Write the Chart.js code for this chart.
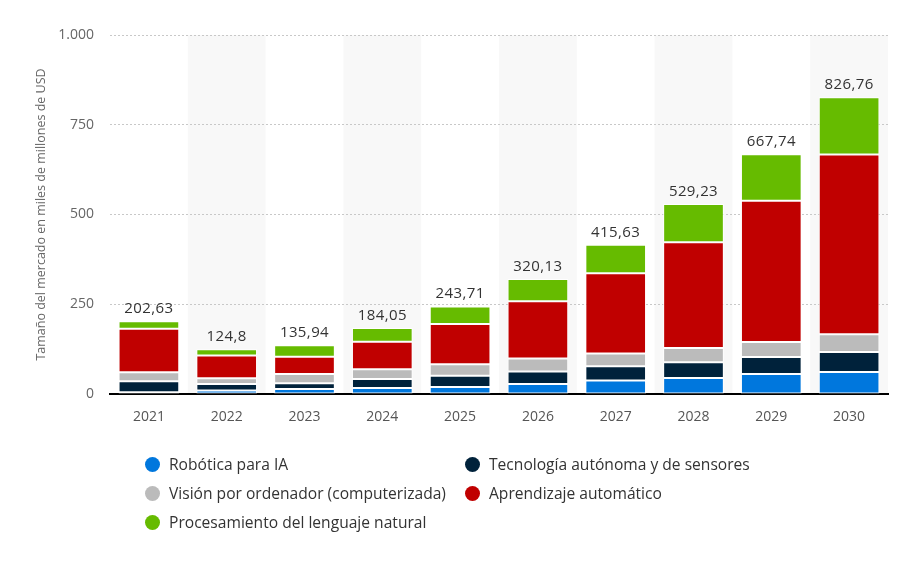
<!DOCTYPE html>
<html>
<head>
<meta charset="utf-8">
<script src="https://cdn.jsdelivr.net/npm/chart.js@4/dist/chart.umd.min.js"></script>
<style>
  html, body { margin: 0; padding: 0; background: #fff; }
  #wrap { position: relative; width: 910px; height: 565px; }
  canvas { position: absolute; left: 0; top: 0; }
  #legend { position: absolute; left: 0; top: 0; width: 910px; height: 565px; pointer-events: none;
    font-family: "Open Sans", "Noto Sans", sans-serif; font-size: 15.6px; color: #333; }
  .item { position: absolute; display: flex; align-items: center; white-space: nowrap; }
  .dot { width: 15px; height: 15px; border-radius: 50%; margin-right: 9px; }
</style>
</head>
<body>
<div id="wrap">
  <canvas id="c" width="910" height="565"></canvas>
  <div id="legend"></div>
</div>
<script>
const categories = ["2021","2022","2023","2024","2025","2026","2027","2028","2029","2030"];
const totals = [202.63, 124.8, 135.94, 184.05, 243.71, 320.13, 415.63, 529.23, 667.74, 826.76];
const seriesNames = ["Robótica para IA", "Tecnología autónoma y de sensores", "Visión por ordenador (computerizada)", "Aprendizaje automático", "Procesamiento del lenguaje natural"];
const robotica   = [5, 10, 14, 17, 19.5, 28, 37.5, 44.6, 55.7, 61.3];
const autonoma   = [30.5, 18, 16, 25, 31.5, 34.5, 39.5, 43.7, 47.4, 55.7];
const vision     = [25, 16, 25.5, 27, 32, 36.5, 35.5, 39.8, 41.8, 49.3];
const aprendizaje= [121, 63.5, 48, 76.5, 112, 159.5, 224, 294.4, 393.6, 501];
const lenguaje   = [21.13, 17.3, 32.44, 38.55, 48.71, 61.63, 79.13, 106.73, 129.24, 159.46];
const yTicks = [0, 250, 500, 750, 1000];

const colors = ["#0077dd", "#00223b", "#bbbbbb", "#c00000", "#66bb00"];
const seriesData = [robotica, autonoma, vision, aprendizaje, lenguaje];

const bandPlugin = {
  id: 'bands',
  beforeDraw(chart) {
    const {ctx, chartArea, scales} = chart;
    const x = scales.x;
    const w = x.width / categories.length;
    ctx.save();
    ctx.fillStyle = '#f8f8f8';
    categories.forEach((c, i) => {
      if (i % 2 === 1) {
        const cx = x.getPixelForValue(i);
        ctx.fillRect(cx - w / 2, chartArea.top, w, chartArea.bottom - chartArea.top);
      }
    });
    ctx.restore();
  }
};

const totalsPlugin = {
  id: 'totals',
  afterDatasetsDraw(chart) {
    const {ctx} = chart;
    const last = chart.getDatasetMeta(chart.data.datasets.length - 1);
    ctx.save();
    ctx.font = '15px "Open Sans", "Noto Sans", sans-serif';
    ctx.fillStyle = '#333';
    ctx.textAlign = 'center';
    ctx.textBaseline = 'bottom';
    if ('letterSpacing' in ctx) ctx.letterSpacing = '0.4px';
    last.data.forEach((bar, i) => {
      const txt = String(totals[i]).replace('.', ',');
      ctx.fillText(txt, bar.x, bar.y - 5);
    });
    ctx.restore();
  }
};

new Chart(document.getElementById('c'), {
  type: 'bar',
  data: {
    labels: categories,
    datasets: seriesNames.map((n, k) => ({
      label: n,
      data: seriesData[k],
      backgroundColor: colors[k],
      borderColor: '#ffffff',
      borderWidth: 1,
      borderSkipped: false,
      categoryPercentage: 1,
      barPercentage: 0.78
    }))
  },
  options: {
    responsive: false,
    animation: false,
    layout: { padding: { left: 31, right: 22, top: 35, bottom: 130 } },
    plugins: { legend: { display: false }, tooltip: { enabled: false } },
    scales: {
      x: {
        stacked: true,
        grid: { display: false },
        border: { display: true, color: '#000', width: 2 },
        ticks: { color: '#555', font: { size: 14, family: '"Open Sans", "Noto Sans", sans-serif' }, padding: 7 },
        afterFit: s => { s.height = 41; }
      },
      y: {
        stacked: true,
        min: 0, max: 1000,
        afterBuildTicks: s => { s.ticks = yTicks.map(v => ({value: v})); },
        grid: { color: '#c8c8c8', drawTicks: false, lineWidth: 1 },
        border: { display: false, dash: [2, 2] },
        ticks: {
          color: '#666', padding: 16,
          font: { size: 14, family: '"Open Sans", "Noto Sans", sans-serif' },
          callback: v => v.toLocaleString('de-DE')
        },
        title: {
          display: true,
          text: 'Tamaño del mercado en miles de millones de USD',
          color: '#666',
          font: { size: 12.5, family: '"Open Sans", "Noto Sans", sans-serif' },
          padding: { top: 3, bottom: 3 }
        },
        afterFit: s => { s.width = 79; }
      }
    }
  },
  plugins: [bandPlugin, totalsPlugin]
});

// HTML legend
const pos = [[145, 464], [465, 464], [145, 493], [465, 493], [145, 522]];
const leg = document.getElementById('legend');
seriesNames.forEach((n, k) => {
  const d = document.createElement('div');
  d.className = 'item';
  d.style.left = pos[k][0] + 'px';
  d.style.top = (pos[k][1] - 11) + 'px';
  d.style.height = '22px';
  d.innerHTML = '<span class="dot" style="background:' + colors[k] + '"></span><span>' + n + '</span>';
  leg.appendChild(d);
});
</script>
</body>
</html>
